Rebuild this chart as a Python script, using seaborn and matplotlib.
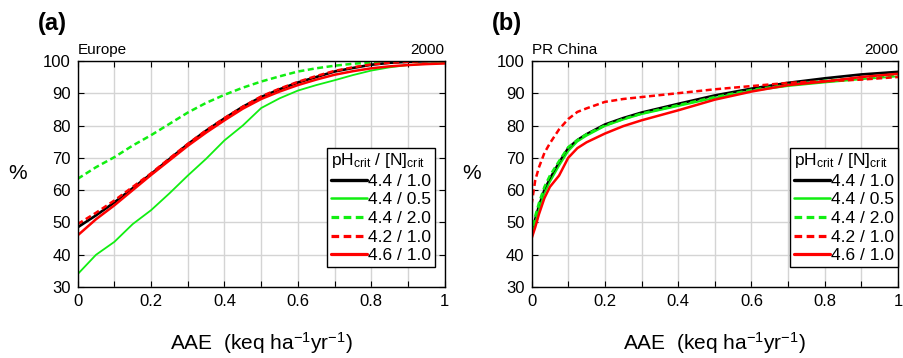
import numpy as np
import pandas as pd
import seaborn as sns
import matplotlib.pyplot as plt

# ---- data ----
labels = ["4.4 / 1.0", "4.4 / 0.5", "4.4 / 2.0", "4.2 / 1.0", "4.6 / 1.0"]

# (a) Europe
x_eu = [0, 0.05, 0.1, 0.15, 0.2, 0.25, 0.3, 0.35, 0.4, 0.45, 0.5,
        0.55, 0.6, 0.65, 0.7, 0.75, 0.8, 0.85, 0.9, 0.95, 1.0]
eu_44_10 = [48.5, 52.2, 56.2, 60.6, 65.0, 69.6, 74.2, 78.4, 82.2, 85.8, 88.8,
            91.2, 93.3, 95.0, 96.7, 97.8, 98.8, 99.4, 99.7, 99.9, 100.0]
eu_44_05 = [34.0, 40.0, 44.0, 49.5, 53.8, 59.0, 64.5, 69.7, 75.4, 80.0, 85.4,
            88.4, 90.8, 92.5, 94.0, 95.6, 97.0, 98.0, 98.7, 99.1, 99.3]
eu_44_20 = [63.5, 67.1, 70.2, 73.8, 77.0, 80.5, 84.0, 87.0, 89.5, 91.7, 93.6,
            95.2, 96.7, 97.7, 98.5, 99.1, 99.5, 99.8, 100.0, 100.0, 100.0]
eu_42_10 = [49.5, 53.0, 56.8, 61.0, 65.2, 69.8, 74.3, 78.5, 82.3, 85.8, 89.0,
            91.4, 93.5, 95.3, 96.9, 98.0, 98.9, 99.4, 99.7, 99.9, 100.0]
eu_46_10 = [46.0, 51.0, 55.3, 60.0, 64.7, 69.2, 73.7, 77.8, 81.6, 85.2, 88.2,
            90.5, 92.5, 94.2, 95.7, 96.8, 97.7, 98.3, 98.7, 99.0, 99.2]

# (b) PR China
x_cn = [0, 0.01, 0.02, 0.035, 0.05, 0.075, 0.1, 0.125, 0.15, 0.2, 0.25,
        0.3, 0.4, 0.5, 0.6, 0.7, 0.8, 0.9, 1.0]
cn_44_10 = [46.0, 51.0, 55.0, 60.0, 63.5, 68.5, 73.0, 75.5, 77.3, 80.3, 82.3,
            84.0, 86.7, 89.3, 91.4, 93.2, 94.6, 95.8, 96.6]
cn_44_05 = [45.0, 50.0, 54.0, 59.0, 62.5, 67.5, 72.0, 75.0, 76.8, 79.8, 81.8,
            83.5, 86.0, 88.5, 90.7, 92.2, 93.3, 94.3, 95.2]
cn_44_20 = [46.0, 52.0, 56.0, 61.0, 64.5, 69.0, 73.3, 75.5, 77.3, 80.0, 82.0,
            83.7, 86.3, 88.8, 91.0, 92.6, 93.8, 94.8, 95.6]
cn_42_10 = [55.5, 63.0, 67.0, 71.5, 74.5, 78.8, 82.0, 84.2, 85.3, 87.3, 88.2,
            88.8, 90.0, 91.2, 92.2, 93.2, 93.7, 94.2, 95.0]
cn_46_10 = [45.0, 48.5, 52.5, 57.5, 61.0, 64.5, 70.0, 73.0, 74.8, 77.5, 79.8,
            81.6, 84.7, 88.0, 90.5, 92.5, 93.6, 95.0, 96.0]

colors = ["black", "#11ee11", "#11ee11", "#ff0000", "#ff0000"]
styles = ["-", "-", "--", "--", "-"]
widths = [1.9, 1.3, 1.8, 1.8, 1.8]

sns.set_theme(style="ticks")
plt.rcParams["font.family"] = ["Liberation Sans", "DejaVu Sans"]
plt.rcParams["mathtext.default"] = "regular"
for key in ["text.color", "axes.labelcolor", "xtick.color", "ytick.color"]:
    plt.rcParams[key] = "black"

fig = plt.figure(figsize=(9.04, 3.58), dpi=100)
ax_a = fig.add_axes([0.0859, 0.198, 0.406, 0.632])
ax_b = fig.add_axes([0.588, 0.198, 0.4055, 0.632])

panels = [
    (ax_a, x_eu, [eu_44_10, eu_44_05, eu_44_20, eu_42_10, eu_46_10], "Europe", "(a)", 0.973),
    (ax_b, x_cn, [cn_44_10, cn_44_05, cn_44_20, cn_42_10, cn_46_10], "PR China", "(b)", 0.999),
]

for ax, xs, series, region, tag, leg_right in panels:
    for ys, lab, c, ls, lw in zip(series, labels, colors, styles, widths):
        df = pd.DataFrame({"x": xs, "y": ys})
        sns.lineplot(data=df, x="x", y="y", ax=ax, color=c, linestyle=ls,
                     linewidth=lw, label=lab, sort=False, errorbar=None)
    for line in ax.get_lines():
        if line.get_linestyle() == "--":
            line.set_dashes((2.4, 1.4))

    ax.set_xlim(0, 1)
    ax.set_ylim(30, 100)
    ax.set_xticks(np.arange(0, 1.01, 0.1))
    ax.set_xticklabels(["0", "", "0.2", "", "0.4", "", "0.6", "", "0.8", "", "1"])
    ax.set_yticks(np.arange(30, 101, 10))
    ax.grid(True, color="#d4d4d4", linewidth=1.0)
    ax.set_axisbelow(True)
    ax.tick_params(direction="in", length=4, width=0.8, labelsize=12,
                   top=True, right=True, pad=5)
    for sp in ax.spines.values():
        sp.set_color("black")
        sp.set_linewidth(1.0)

    ax.set_xlabel("AAE  (keq ha$^{-1}$yr$^{-1}$)", fontsize=15, labelpad=15)
    ax.set_ylabel("%", fontsize=15, rotation=0, labelpad=18, va="center")
    ax.text(0, 1.015, region, transform=ax.transAxes, ha="left", va="bottom", fontsize=11)
    ax.text(1, 1.015, "2000", transform=ax.transAxes, ha="right", va="bottom", fontsize=11)
    ax.text(-0.108, 1.115, tag, transform=ax.transAxes, ha="left", va="bottom",
            fontsize=17, fontweight="bold")

    leg = ax.legend(title="pH$_{crit}$ / [N]$_{crit}$", loc="lower right",
                    bbox_to_anchor=(leg_right, 0.09), fontsize=12.5, title_fontsize=12.5,
                    frameon=True, fancybox=False, framealpha=1, edgecolor="black",
                    borderpad=0.2, handlelength=2.1, handletextpad=0.05,
                    labelspacing=0.2, borderaxespad=0, alignment="left")
    leg.get_frame().set_linewidth(1.0)
    for h in leg.get_lines():
        h.set_linewidth(h.get_linewidth() + 0.5)

fig.savefig("out.png", dpi=100)
